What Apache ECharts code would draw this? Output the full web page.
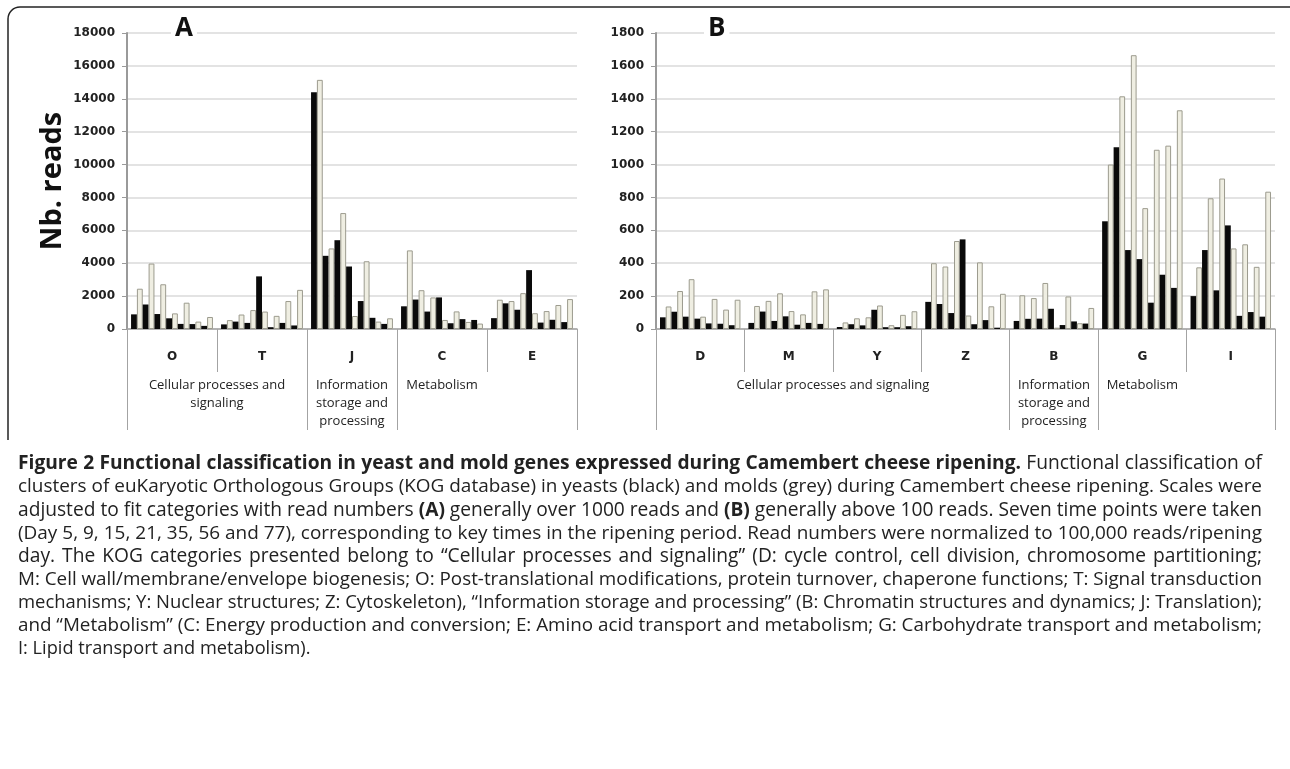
<!DOCTYPE html>
<html>
<head>
<meta charset="utf-8">
<script src="https://cdn.jsdelivr.net/npm/echarts@6/dist/echarts.min.js"></script>
<style>
  html, body { margin: 0; padding: 0; background: #fff; }
  #chart { width: 1290px; height: 769px; }
</style>
</head>
<body>
<div id="chart"></div>
<script>
// sampling days (one black + one grey bar per day inside each KOG category)
var days = ['5', '9', '15', '21', '35', '56', '77'];

// panel A
var catsA = ['O', 'T', 'J', 'C', 'E'];
var yeastA = [
  [890, 1490, 910, 650, 310, 300, 190],
  [280, 450, 370, 3200, 110, 370, 215],
  [14400, 4450, 5400, 3800, 1700, 680, 310],
  [1380, 1790, 1060, 1920, 350, 600, 550],
  [660, 1560, 1170, 3580, 390, 560, 420]
];
var moldA = [
  [2450, 3980, 2720, 950, 1600, 450, 730],
  [540, 880, 1150, 1060, 800, 1700, 2380],
  [15150, 4900, 7050, 790, 4120, 450, 650],
  [4780, 2360, 1920, 550, 1070, 430, 330],
  [1780, 1700, 2180, 960, 1090, 1460, 1820]
];
var groupsA = ['Cellular processes and\nsignaling', 'Information\nstorage and\nprocessing', 'Metabolism'];
var groupPosA = [1, 2.5, 3.5];
var groupEdgesA = [0, 2, 3, 5];

// panel B
var catsB = ['D', 'M', 'Y', 'Z', 'B', 'G', 'I'];
var yeastB = [
  [71, 105, 75, 63, 34, 32, 23],
  [37, 106, 49, 77, 26, 37, 31],
  [12, 29, 22, 117, 11, 11, 17],
  [165, 152, 97, 545, 29, 54, 8],
  [49, 62, 63, 123, 24, 46, 33],
  [655, 1105, 480, 425, 160, 330, 250],
  [200, 480, 235, 630, 80, 103, 75]
];
var moldB = [
  [137, 231, 303, 75, 183, 118, 178],
  [140, 171, 217, 109, 89, 229, 241],
  [40, 65, 71, 143, 23, 86, 108],
  [400, 380, 535, 82, 405, 138, 214],
  [205, 188, 280, 8, 198, 35, 128],
  [1000, 1415, 1665, 735, 1090, 1115, 1330],
  [375, 795, 915, 490, 515, 378, 835]
];
var groupsB = ['Cellular processes and signaling', 'Information\nstorage and\nprocessing', 'Metabolism'];
var groupPosB = [2, 4.5, 5.5];
var groupEdgesB = [0, 4, 5, 7];

var yMaxA = 18000, yStepA = 2000;
var yMaxB = 1800, yStepB = 200;

// caption, {b|...} marks bold runs
var captionLines = [
  '{b|Figure 2 Functional classification in yeast and mold genes expressed during Camembert cheese ripening.} Functional classification of',
  'clusters of euKaryotic Orthologous Groups (KOG database) in yeasts (black) and molds (grey) during Camembert cheese ripening. Scales were',
  'adjusted to fit categories with read numbers {b|(A)} generally over 1000 reads and {b|(B)} generally above 100 reads. Seven time points were taken',
  '(Day 5, 9, 15, 21, 35, 56 and 77), corresponding to key times in the ripening period. Read numbers were normalized to 100,000 reads/ripening',
  'day. The KOG categories presented belong to \u201cCellular processes and signaling\u201d (D: cycle control, cell division, chromosome partitioning;',
  'M: Cell wall/membrane/envelope biogenesis; O: Post-translational modifications, protein turnover, chaperone functions; T: Signal transduction',
  'mechanisms; Y: Nuclear structures; Z: Cytoskeleton), \u201cInformation storage and processing\u201d (B: Chromatin structures and dynamics; J: Translation);',
  'and \u201cMetabolism\u201d (C: Energy production and conversion; E: Amino acid transport and metabolism; G: Carbohydrate transport and metabolism;',
  'I: Lipid transport and metabolism).'
];

var numFont = 'DejaVu Sans';
var txtFont = 'Open Sans';
var capSize = 18.2;

function buildSeries(yeast, mold, axisIdx) {
  var out = [];
  for (var d = 0; d < days.length; d++) {
    out.push({
      type: 'bar',
      name: 'Yeast day ' + days[d],
      xAxisIndex: axisIdx,
      yAxisIndex: axisIdx / 2,
      data: yeast.map(function (r) { return r[d]; }),
      itemStyle: { color: '#0a0a0a' },
      barGap: '0%',
      barCategoryGap: '9%'
    });
    out.push({
      type: 'bar',
      name: 'Mold day ' + days[d],
      xAxisIndex: axisIdx,
      yAxisIndex: axisIdx / 2,
      data: mold.map(function (r) { return r[d]; }),
      itemStyle: { color: '#efeee2', borderColor: '#9c9b8e', borderWidth: 1 },
      barGap: '0%',
      barCategoryGap: '9%'
    });
  }
  return out;
}

function catAxis(grid, cats) {
  return {
    gridIndex: grid,
    type: 'category',
    position: 'bottom',
    data: cats,
    axisLine: { lineStyle: { color: '#a3a3a3', width: 1.5 } },
    axisTick: { show: true, interval: 0, length: 43, lineStyle: { color: '#a3a3a3' } },
    axisLabel: { interval: 0, margin: 22, color: '#222', fontSize: 12, fontWeight: 'bold', fontFamily: numFont }
  };
}

function groupAxis(grid, n, edges, pos, names) {
  return {
    gridIndex: grid,
    type: 'value',
    position: 'bottom',
    min: 0,
    max: n,
    axisLine: { show: false },
    splitLine: { show: false },
    axisTick: { show: true, customValues: edges, length: 101, lineStyle: { color: '#a3a3a3' } },
    axisLabel: {
      customValues: pos,
      margin: 47,
      lineHeight: 18,
      align: 'center',
      color: '#222',
      fontSize: 13,
      fontFamily: txtFont,
      formatter: function (v) {
        var i = pos.indexOf(v);
        return i >= 0 ? names[i] : '';
      }
    }
  };
}

function valAxis(grid, max, step, name) {
  return {
    gridIndex: grid,
    type: 'value',
    min: 0,
    max: max,
    interval: step,
    name: name,
    nameLocation: 'middle',
    nameGap: 60,
    nameTextStyle: { fontSize: 29, fontWeight: 'bold', fontFamily: txtFont, color: '#111' },
    axisLine: { show: true, lineStyle: { color: '#9a9a9a', width: 2 } },
    axisTick: { show: true, length: 5, lineStyle: { color: '#9a9a9a' } },
    splitLine: { show: true, lineStyle: { color: '#dadada', width: 1.5 } },
    axisLabel: {
      margin: 12,
      color: '#222',
      fontSize: 12,
      fontWeight: 'bold',
      fontFamily: numFont,
      formatter: function (v) { return String(v); }
    }
  };
}

// justified caption: each word placed with measured widths
var measureCtx = document.createElement('canvas').getContext('2d');
function capFont(bold, size) {
  return (bold ? 'bold ' : '') + size.toFixed(2) + 'px "' + txtFont + '"';
}
function textWidth(s, bold, size) {
  measureCtx.font = capFont(bold, size);
  return measureCtx.measureText(s).width;
}
function captionWords(line) {
  var words = [];
  var re = /\{b\|([^}]*)\}|([^{]+)/g, m;
  while ((m = re.exec(line)) !== null) {
    var bold = m[1] !== undefined;
    var chunk = bold ? m[1] : m[2];
    chunk.split(' ').forEach(function (w) {
      if (w) words.push({ text: w, bold: bold });
    });
  }
  return words;
}

var frame = { stroke: '#222', lineWidth: 1.5, fill: 'none' };
var graphics = [
  { type: 'line', shape: { x1: 8, y1: 440, x2: 8, y2: 19 }, style: frame },
  { type: 'arc', shape: { cx: 20, cy: 19, r: 12, startAngle: Math.PI, endAngle: Math.PI * 1.5 }, style: frame },
  { type: 'line', shape: { x1: 20, y1: 7, x2: 1290, y2: 7 }, style: frame },
  { type: 'text', left: 171, top: 16, z: 10,
    style: { text: 'A', font: 'bold 26px "Open Sans"', fill: '#111', backgroundColor: '#fff', padding: [0, 4, 0, 4] } },
  { type: 'text', left: 704, top: 16, z: 10,
    style: { text: 'B', font: 'bold 26px "Open Sans"', fill: '#111', backgroundColor: '#fff', padding: [0, 4, 0, 4] } }
];

var capLeft = 18, capRight = 1262, capTop = 464, capStep = 23.1;
captionLines.forEach(function (line, li) {
  var words = captionWords(line);
  var last = li === captionLines.length - 1;
  var size = capSize;
  function natural(sz) {
    var t = words.reduce(function (a, w) { return a + textWidth(w.text, w.bold, sz); }, 0);
    return t + textWidth(' ', false, sz) * (words.length - 1);
  }
  if (!last) {
    size = capSize * (capRight - capLeft) / natural(capSize);
    size = Math.max(17.4, Math.min(19.2, size));
  }
  var widths = words.map(function (w) { return textWidth(w.text, w.bold, size); });
  var total = widths.reduce(function (a, b) { return a + b; }, 0);
  var gap = textWidth(' ', false, size);
  if (!last && words.length > 1) {
    gap = (capRight - capLeft - total) / (words.length - 1);
  }
  var x = capLeft;
  words.forEach(function (w, wi) {
    graphics.push({
      type: 'text',
      x: x,
      y: capTop + li * capStep,
      style: { text: w.text, font: capFont(w.bold, size), fill: '#222', verticalAlign: 'middle' }
    });
    x += widths[wi] + gap;
  });
});

var chart = echarts.init(document.getElementById('chart'));
chart.setOption({
  animation: false,
  backgroundColor: '#fff',
  grid: [
    { left: 127, top: 33, width: 450, height: 296 },
    { left: 656, top: 33, width: 619, height: 296 }
  ],
  xAxis: [
    catAxis(0, catsA),
    groupAxis(0, catsA.length, groupEdgesA, groupPosA, groupsA),
    catAxis(1, catsB),
    groupAxis(1, catsB.length, groupEdgesB, groupPosB, groupsB)
  ],
  yAxis: [
    valAxis(0, yMaxA, yStepA, 'Nb. reads'),
    valAxis(1, yMaxB, yStepB, '')
  ],
  series: buildSeries(yeastA, moldA, 0).concat(buildSeries(yeastB, moldB, 2)),
  graphic: graphics
});
</script>
</body>
</html>
